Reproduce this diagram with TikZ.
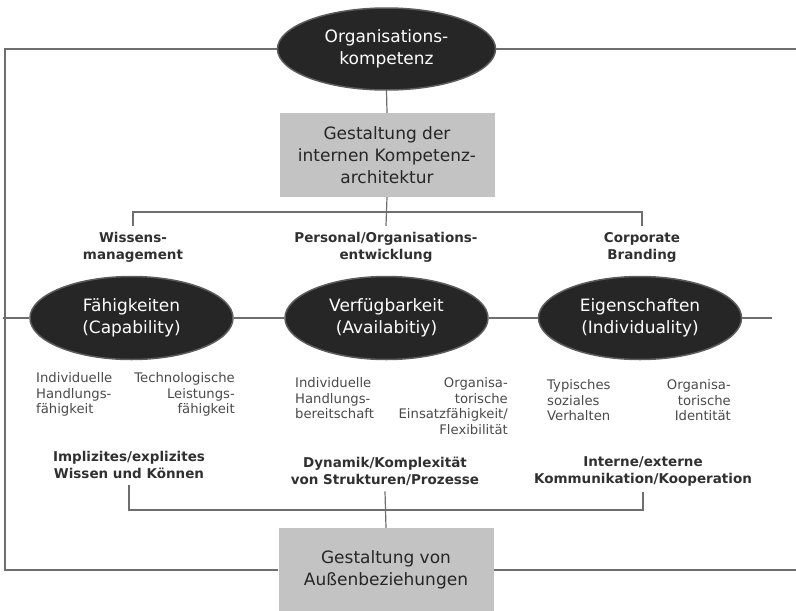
\documentclass[tikz,border=0pt]{standalone}
\usepackage{fontspec}
\setmainfont{DejaVu Sans}
\usetikzlibrary{shapes.geometric}

\definecolor{linegray}{HTML}{6E6E6E}
\definecolor{ovalfill}{HTML}{262626}
\definecolor{ovaledge}{HTML}{5C5C5C}
\definecolor{boxfill}{HTML}{C3C3C3}
\definecolor{lighttext}{HTML}{4A4A4A}
\definecolor{labeltext}{HTML}{303030}

\tikzset{
  conn/.style={draw=linegray, line width=1.2pt},
  oval/.style={ellipse, fill=ovalfill, draw=ovaledge, line width=1.5pt,
    text=white, align=center, inner sep=0pt,
    minimum width=203pt, minimum height=83pt,
    font=\fontsize{17}{22}\selectfont},
  graybox/.style={rectangle, fill=boxfill, draw=none, align=center,
    text=black!85, inner sep=0pt, minimum width=215pt, minimum height=84pt,
    font=\fontsize{17}{22}\selectfont},
  area/.style={align=center, text=labeltext, inner sep=0pt, outer sep=6pt,
    font=\bfseries\fontsize{13.5}{17}\selectfont},
  detail/.style={text=lighttext, inner sep=0pt,
    font=\fontsize{13.2}{15.8}\selectfont},
}

\begin{document}
\begin{tikzpicture}[x=1pt, y=-1pt]
  \useasboundingbox (0,0) rectangle (796,611);

  % top level
  \node[oval, minimum width=218pt, minimum height=82pt] (top) at (386.5,49)
    {Organisations-\\kompetenz};
  \node[graybox] (arch) at (387,155)
    {Gestaltung der\\internen Kompetenz-\\architektur};

  % fields of action
  \node[area] (wiss) at (133,247) {Wissens-\\management};
  \node[area] (pers) at (386,247) {Personal/Organisations-\\entwicklung};
  \node[area] (corp) at (642,247) {Corporate\\Branding};

  % the three dimensions
  \node[oval] (cap) at (131.5,318) {Fähigkeiten\\(Capability)};
  \node[oval] (avail) at (386.5,318) {Verfügbarkeit\\(Availabitiy)};
  \node[oval] (indiv) at (640,318) {Eigenschaften\\(Individuality)};

  % details of each dimension
  \node[detail, anchor=north west, align=left] (c1) at (36,372)
    {Individuelle\\Handlungs-\\fähigkeit};
  \node[detail, anchor=north east, align=right] (c2) at (235,372)
    {Technologische\\Leistungs-\\fähigkeit};
  \node[detail, anchor=north west, align=left] (a1) at (295,377)
    {Individuelle\\Handlungs-\\bereitschaft};
  \node[detail, anchor=north east, align=right] (a2) at (508,377)
    {Organisa-\\torische\\Einsatzfähigkeit/\\Flexibilität};
  \node[detail, anchor=north west, align=left] (i1) at (547,379)
    {Typisches\\soziales\\Verhalten};
  \node[detail, anchor=north east, align=right] (i2) at (731,379)
    {Organisa-\\torische\\Identität};

  % resulting areas
  \node[area] (impl) at (129,465) {Implizites/explizites\\Wissen und Können};
  \node[area] (dyn) at (385,471) {Dynamik/Komplexität\\von Strukturen/Prozesse};
  \node[area] (komm) at (643,471) {Interne/externe\\Kommunikation/Kooperation};

  \node[graybox, minimum height=84pt] (ext) at (386,570)
    {Gestaltung von\\Außenbeziehungen};

  % helper points
  \coordinate (ub) at (386,212);
  \coordinate (lb) at (386,510);
  \coordinate (frameL) at (5,49);
  \coordinate (frameR) at (796,49);
  \coordinate (rowL) at (3,318);
  \coordinate (rowR) at (772,318);

  % frame around everything
  \draw[conn] (top.west) -- (frameL) -- (frameL |- ext.west) -- (ext.west);
  \draw[conn] (top.east) -- (frameR);
  \draw[conn] (ext.east) -- (frameR |- ext.east);

  % vertical spine and upper bus
  \draw[conn] (top.south) -- (arch.north);
  \draw[conn] (arch.south) -- (pers.north);
  \draw[conn] (wiss.north) -- (wiss.north |- ub) -- (corp.north |- ub) -- (corp.north);

  % row of dimensions
  \draw[conn] (rowL) -- (cap.west);
  \draw[conn] (cap.east) -- (avail.west);
  \draw[conn] (avail.east) -- (indiv.west);
  \draw[conn] (indiv.east) -- (rowR);

  % lower bus
  \draw[conn] (impl.south) -- (impl.south |- lb) -- (komm.south |- lb) -- (komm.south);
  \draw[conn] (dyn.south) -- (ext.north);
\end{tikzpicture}
\end{document}
